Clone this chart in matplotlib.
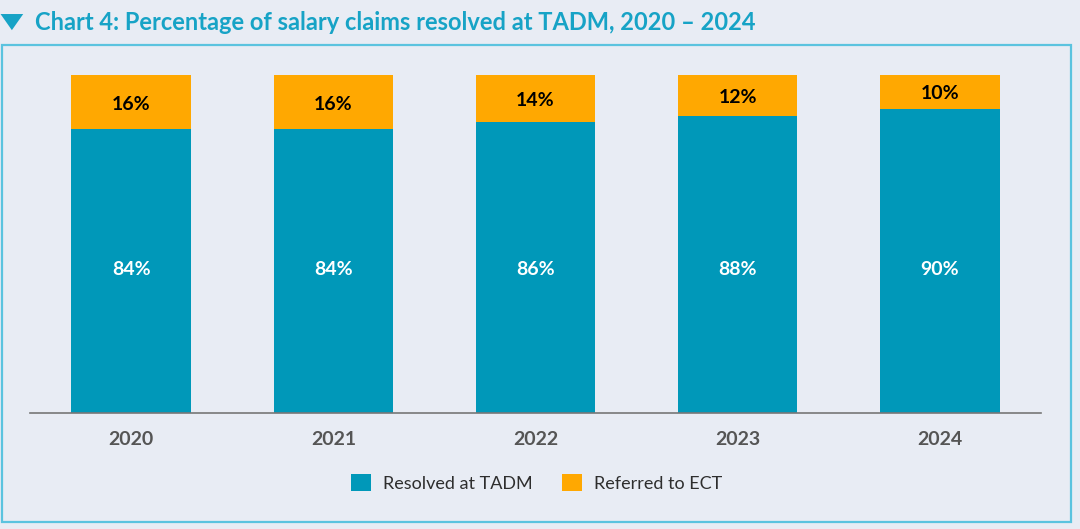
import matplotlib
matplotlib.use("Agg")
import matplotlib.pyplot as plt
from matplotlib.patches import Rectangle, Patch, Polygon

years = ["2020", "2021", "2022", "2023", "2024"]
resolved = [84, 84, 86, 88, 90]
referred = [16, 16, 14, 12, 10]
series_names = ["Resolved at TADM", "Referred to ECT"]

BG = "#E8ECF4"
TEAL = "#0098B9"
ORANGE = "#FFA801"
TITLE_C = "#17A3C6"
FONT = ["Lato", "DejaVu Sans"]

plt.rcParams["font.family"] = FONT

fig = plt.figure(figsize=(10.8, 5.29), dpi=100, facecolor=BG)

# border box
fig.patches.append(Rectangle((0.0015, 0.0132), 0.990, 0.9017, transform=fig.transFigure,
                             fill=False, edgecolor="#5BC3DF", linewidth=1.6))
# title triangle
fig.patches.append(Polygon([(0.0005, 0.9735), (0.0215, 0.9735), (0.011, 0.943)],
                           closed=True, transform=fig.transFigure, facecolor=TITLE_C, edgecolor="none"))
fig.text(0.032, 0.958, "Chart 4: Percentage of salary claims resolved at TADM, 2020 \u2013 2024",
         color=TITLE_C, fontsize=17, fontweight="bold", va="center", ha="left")

ax = fig.add_axes([0.0278, 0.2193, 0.9361, 0.6389])
ax.set_facecolor(BG)
x = list(range(len(years)))
w = 0.59
ax.bar(x, resolved, width=w, color=TEAL, edgecolor="none")
ax.bar(x, referred, width=w, bottom=resolved, color=ORANGE, edgecolor="none")

for i in x:
    ax.text(i, 42.5, f"{resolved[i]}%", ha="center", va="center",
            color="white", fontsize=14, fontweight="bold")
    ax.text(i, resolved[i] + referred[i] / 2 - 0.6, f"{referred[i]}%", ha="center", va="center",
            color="black", fontsize=14, fontweight="bold")

ax.set_xlim(-0.5, len(years) - 0.5)
ax.set_ylim(0, 100)
ax.set_xticks(x)
ax.set_xticklabels(years, fontsize=14, fontweight="bold", color="#555555")
ax.tick_params(axis="x", length=0, pad=13)
ax.set_yticks([])
for s in ["top", "right", "left"]:
    ax.spines[s].set_visible(False)
ax.spines["bottom"].set_color("#777777")
ax.spines["bottom"].set_linewidth(1.2)

handles = [Patch(facecolor=TEAL, edgecolor="none"), Patch(facecolor=ORANGE, edgecolor="none")]
leg = fig.legend(handles, series_names, loc="center", bbox_to_anchor=(0.497, 0.087), ncol=2,
                 frameon=False, fontsize=13, handlelength=1.1, handleheight=1.1,
                 handletextpad=0.7, columnspacing=1.6)
for t in leg.get_texts():
    t.set_color("#2E2E2E")

fig.savefig("out.png", dpi=100, facecolor=BG)
